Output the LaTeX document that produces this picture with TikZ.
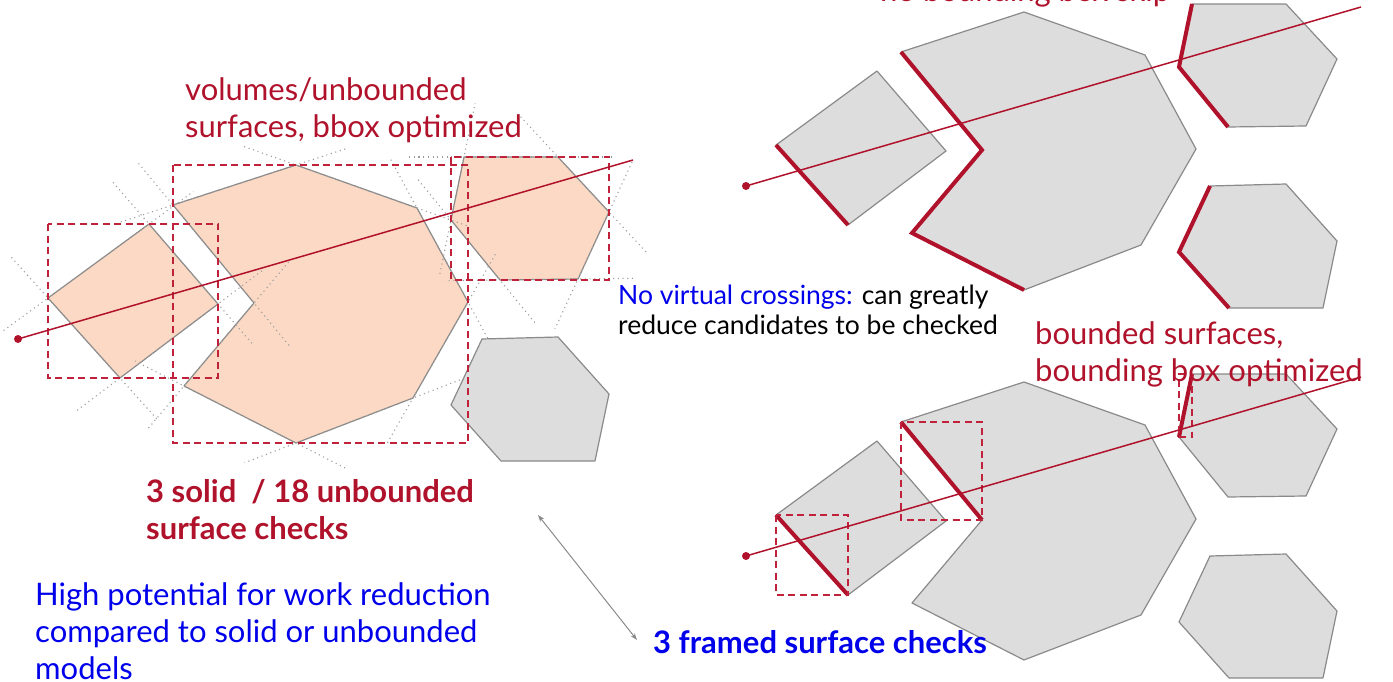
\documentclass[tikz,border=0pt]{standalone}
\usepackage{fontspec}
\setmainfont{Lato}
\usetikzlibrary{calc,arrows.meta}

\definecolor{rayred}{RGB}{176,18,43}
\definecolor{boxred}{RGB}{192,34,60}
\definecolor{hitfill}{RGB}{252,217,196}
\definecolor{polyfill}{RGB}{221,221,221}
\definecolor{polyline}{RGB}{138,138,138}
\definecolor{textblue}{RGB}{0,0,235}

% corner points of one scene, #1 is the prefix of the names
\newcommand{\scenepoints}[1]{%
  \coordinate (#1sqW) at (48,298);
  \coordinate (#1sqN) at (149,224);
  \coordinate (#1sqE) at (218,304);
  \coordinate (#1sqS) at (120,378);
  \coordinate (#1bg1) at (173,205);
  \coordinate (#1bg2) at (296,165);
  \coordinate (#1bg3) at (417,208);
  \coordinate (#1bg4) at (468,302);
  \coordinate (#1bg5) at (413,398);
  \coordinate (#1bg6) at (296,443);
  \coordinate (#1bg7) at (184,386);
  \coordinate (#1bg8) at (254,303);
  \coordinate (#1hu1) at (464,157);
  \coordinate (#1hu2) at (558,157);
  \coordinate (#1hu3) at (609,212);
  \coordinate (#1hu4) at (578,279);
  \coordinate (#1hu5) at (500,280);
  \coordinate (#1hu6) at (451,220);
  \coordinate (#1hl1) at (482,339);
  \coordinate (#1hl2) at (558,337);
  \coordinate (#1hl3) at (609,394);
  \coordinate (#1hl4) at (595,461);
  \coordinate (#1hl5) at (501,461);
  \coordinate (#1hl6) at (451,405);
  \coordinate (#1r0) at (18,339);
  \coordinate (#1r1) at (633,160);
}

\begin{document}
\begin{tikzpicture}[x=1pt,y=-1pt,
    poly/.style={draw=polyline,line width=1.2pt,line join=round},
    hit/.style={poly,fill=hitfill},
    miss/.style={poly,fill=polyfill},
    extension/.style={polyline!85,line width=1.1pt,dash pattern=on 1.1pt off 3.6pt},
    bbox/.style={boxred,line width=1.4pt,dash pattern=on 7pt off 4.5pt},
    ray/.style={rayred,line width=1.5pt},
    face/.style={rayred,line width=4pt},
    note/.style={inner sep=0pt,anchor=north west,align=left,font=\fontsize{31}{37}\selectfont},
    strong/.style={font=\fontsize{31}{37}\selectfont\bfseries},
    small/.style={font=\fontsize{26.5}{30}\selectfont}]

    \useasboundingbox (0,0) rectangle (1393,682);

    \scenepoints{L}
    \begin{scope}[shift={(728,-153)}]
        \scenepoints{T}
    \end{scope}
    \begin{scope}[shift={(728,217)}]
        \scenepoints{B}
    \end{scope}

    % left: volumes / unbounded surfaces
    \foreach \s/\f in {L/hit,T/miss,B/miss} {
        \draw[\f] (\s sqW) -- (\s sqN) -- (\s sqE) -- (\s sqS) -- cycle;
        \draw[\f] (\s bg1) -- (\s bg2) -- (\s bg3) -- (\s bg4) -- (\s bg5) -- (\s bg6) -- (\s bg7) -- (\s bg8) -- cycle;
        \draw[\f] (\s hu1) -- (\s hu2) -- (\s hu3) -- (\s hu4) -- (\s hu5) -- (\s hu6) -- cycle;
    }
    \foreach \a/\b in {sqW/sqN,sqN/sqE,sqE/sqS,sqS/sqW,
                       bg1/bg2,bg2/bg3,bg3/bg4,bg4/bg5,bg5/bg6,bg6/bg7,bg7/bg8,bg8/bg1,
                       hu1/hu2,hu2/hu3,hu3/hu4,hu4/hu5,hu5/hu6,hu6/hu1}
        \draw[extension] ($(L\a)!-55pt!(L\b)$) -- ($(L\b)!-55pt!(L\a)$);
    \foreach \s in {L,T,B}
        \draw[miss] (\s hl1) -- (\s hl2) -- (\s hl3) -- (\s hl4) -- (\s hl5) -- (\s hl6) -- cycle;

    \draw[bbox] (LsqW |- LsqN) rectangle (LsqE |- LsqS);
    \draw[bbox] (Lbg1 |- Lbg2) rectangle (Lbg4 |- Lbg6);
    \draw[bbox] (Lhu6 |- Lhu1) rectangle (Lhu3 |- Lhu5);

    % top right: bounded surfaces
    \draw[face] (TsqW) -- (TsqS);
    \draw[face] (Tbg1) -- (Tbg8) -- (Tbg7) -- (Tbg6);
    \draw[face] (Thu1) -- (Thu6) -- (Thu5);
    \draw[face] (Thl1) -- (Thl6) -- (Thl5);

    % bottom right: framed surfaces
    \draw[face] (BsqW) -- (BsqS);
    \draw[face] (Bbg1) -- (Bbg8);
    \draw[face] (Bhu1) -- (Bhu6);
    \draw[bbox] (BsqW) rectangle (BsqS);
    \draw[bbox] (Bbg1) rectangle (Bbg8);
    \draw[bbox] (Bhu1) rectangle (Bhu6);

    \foreach \s in {L,T,B} {
        \draw[ray] (\s r0) -- (\s r1);
        \fill[rayred] (\s r0) circle (4pt);
    }

    \node[note,rayred] (volumes) at (185,77) {volumes/unbounded\\surfaces, bbox optimized};
    \node[note,strong,rayred] (solidcount) at (146,479) {3 solid~~/ 18 unbounded\\surface checks};
    \node[note,textblue] (potential) at (35,582) {High potential for work reduction\\compared to solid or unbounded\\models};
    \node[note,small] (virtual) at (618,285) {\textcolor{textblue}{No virtual crossings:} can greatly\\reduce candidates to be checked};
    \node[note,rayred] (bounded) at (1035,321) {bounded surfaces,\\bounding box optimized};
    \node[note,strong,textblue] (framed) at (653,630) {3 framed surface checks};
    \node[note,rayred,anchor=base west] (cutoff) at (880,1.5) {no bounding box skip};

    \coordinate (arrA) at (538,515);
    \coordinate (arrB) at (637,640);
    \draw[polyline,line width=1pt,{Stealth[length=7pt,width=5pt]}-{Stealth[length=7pt,width=5pt]}] (arrA) -- (arrB);
\end{tikzpicture}
\end{document}
